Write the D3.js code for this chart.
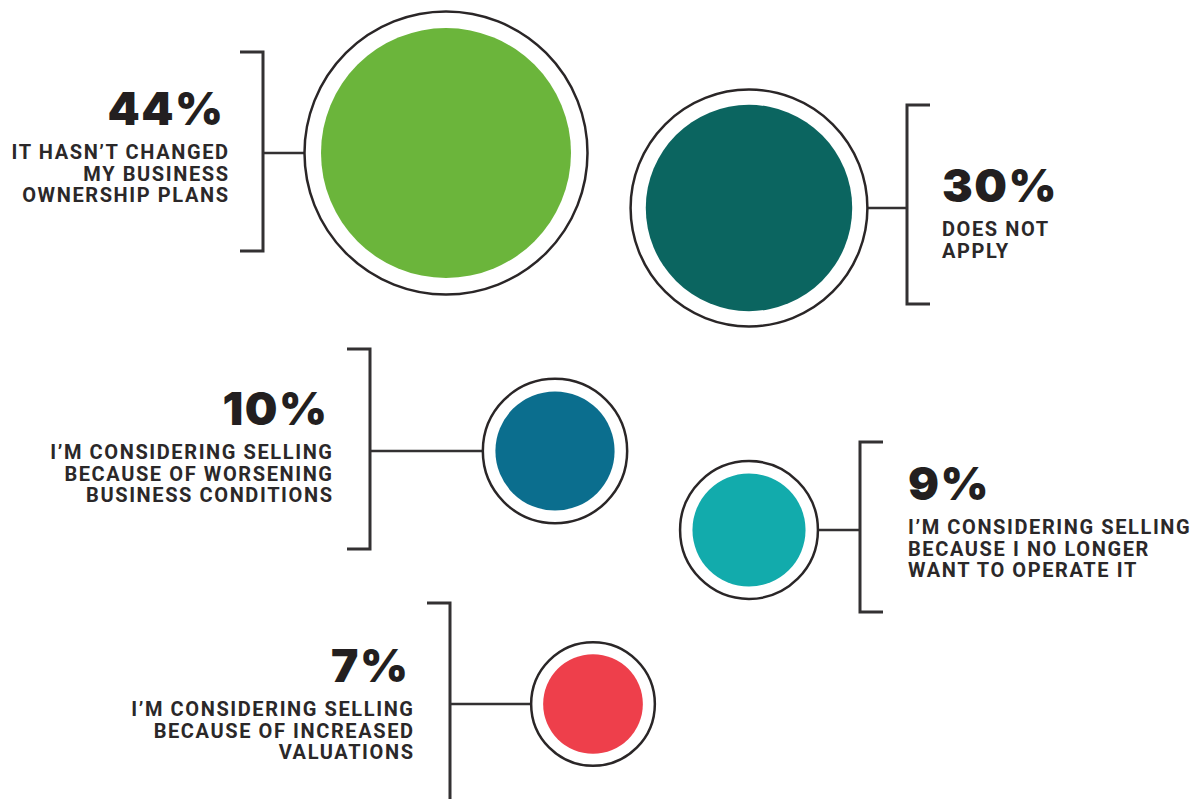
<!DOCTYPE html>
<html><head><meta charset="utf-8">
<script src="https://cdn.jsdelivr.net/npm/d3@7"></script>
<style>html,body{margin:0;padding:0;background:#fff;} svg{display:block}</style>
</head><body>
<svg id="chart" width="1197" height="799"></svg>
<script>
// ---- data ----
const categories = [
  "It hasn't changed my business ownership plans",
  "Does not apply",
  "I'm considering selling because of worsening business conditions",
  "I'm considering selling because I no longer want to operate it",
  "I'm considering selling because of increased valuations"
];
const values = [44, 30, 10, 9, 7];
const labelLines = [
  ["IT HASN\u2019T CHANGED", "MY BUSINESS", "OWNERSHIP PLANS"],
  ["DOES NOT", "APPLY"],
  ["I\u2019M CONSIDERING SELLING", "BECAUSE OF WORSENING", "BUSINESS CONDITIONS"],
  ["I\u2019M CONSIDERING SELLING", "BECAUSE I NO LONGER", "WANT TO OPERATE IT"],
  ["I\u2019M CONSIDERING SELLING", "BECAUSE OF INCREASED", "VALUATIONS"]
];

// ---- styles / layout ----
const palette = ["#6bb53b", "#0b6560", "#0b6e8e", "#12abac", "#ee3f4b"];
const layout = [
  {side: "left",  cx: 446, cy: 153, bx: 263, bTop: 52,  bBot: 251, pctY: 125, gap: 35},
  {side: "right", cx: 749, cy: 208, bx: 907, bTop: 105, bBot: 304, pctY: 202, gap: 35},
  {side: "left",  cx: 555, cy: 451, bx: 370, bTop: 349, bBot: 549, pctY: 425, gap: 38},
  {side: "right", cx: 749, cy: 530, bx: 860, bTop: 442, bBot: 612, pctY: 500, gap: 48},
  {side: "left",  cx: 593, cy: 704, bx: 450, bTop: 603, bBot: 810, pctY: 682, gap: 37}
];
const armLen = 23;
const ink = "#231f20";
const lineColor = "#333132";
const pctSpacing = 1.5;
const labSpacing = 1.6;

const items = values.map((v, i) => ({
  value: v, category: categories[i], lines: labelLines[i], color: palette[i], ...layout[i]
}));

const r = d3.scaleSqrt().domain([0, d3.max(values)]).range([0, 125]);
const outerR = v => r(v) * 1.06 + 9;
const fmt = v => v + "%";

const svg = d3.select("#chart");
const g = svg.selectAll("g.item").data(items).join("g").attr("class", "item");

// connector
g.append("line")
  .attr("x1", d => d.bx)
  .attr("x2", d => d.side === "left" ? d.cx - outerR(d.value) : d.cx + outerR(d.value))
  .attr("y1", d => d.cy).attr("y2", d => d.cy)
  .attr("stroke", lineColor).attr("stroke-width", 2.5);

// bracket
g.append("path")
  .attr("d", d => {
    const s = d.side === "left" ? -1 : 1;
    return `M${d.bx + s * armLen},${d.bTop}H${d.bx}V${d.bBot}H${d.bx + s * armLen}`;
  })
  .attr("fill", "none").attr("stroke", lineColor).attr("stroke-width", 3);

// outer ring
g.append("circle")
  .attr("cx", d => d.cx).attr("cy", d => d.cy)
  .attr("r", d => outerR(d.value))
  .attr("fill", "#fff").attr("stroke", "#2a2627").attr("stroke-width", 2.5);

// inner bubble
g.append("circle")
  .attr("cx", d => d.cx).attr("cy", d => d.cy)
  .attr("r", d => r(d.value))
  .attr("fill", d => d.color);

// percent
g.append("text")
  .attr("x", d => d.side === "left" ? d.bx - d.gap - 5 + pctSpacing : d.bx + d.gap)
  .attr("y", d => d.pctY)
  .attr("text-anchor", d => d.side === "left" ? "end" : "start")
  .style("font-family", "Inter, Lato, 'Noto Sans', sans-serif")
  .style("font-weight", 900)
  .style("font-size", "46px")
  .style("letter-spacing", pctSpacing + "px")
  .attr("fill", ink)
  .text(d => fmt(d.value));

// label lines
g.each(function(d) {
  d3.select(this).selectAll("text.lab").data(d.lines).join("text")
    .attr("class", "lab")
    .attr("x", d.side === "left" ? d.bx - d.gap + labSpacing : d.bx + d.gap)
    .attr("y", (t, j) => d.pctY + 34 + j * 21.7)
    .attr("text-anchor", d.side === "left" ? "end" : "start")
    .style("font-family", "Roboto, 'Liberation Sans', sans-serif")
    .style("font-weight", 700)
    .style("font-size", "20px")
    .style("letter-spacing", labSpacing + "px")
    .attr("fill", "#2b2829")
    .text(t => t);
});
</script>
</body></html>
